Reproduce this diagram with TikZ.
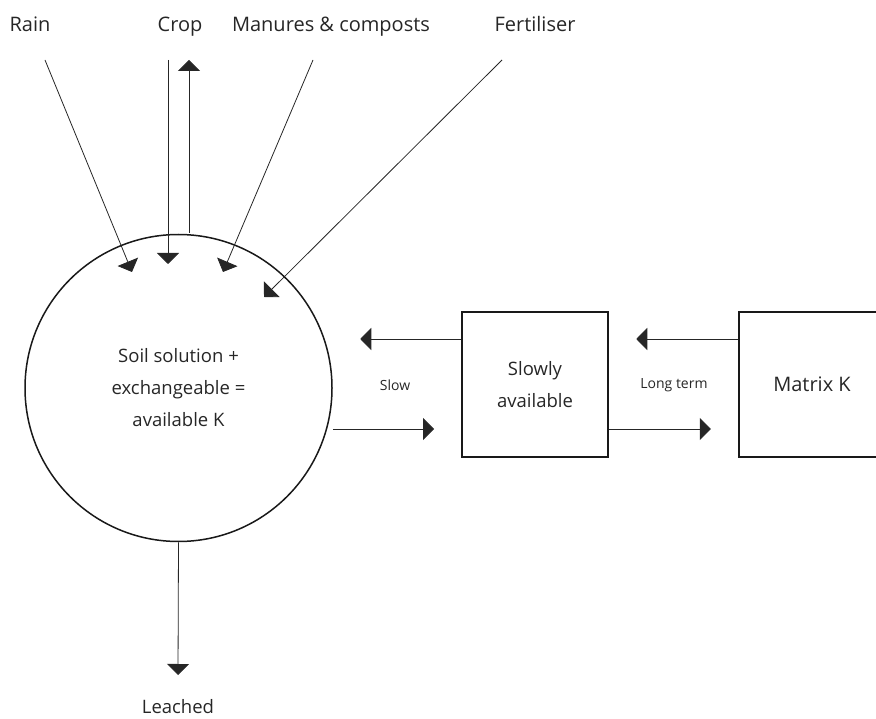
\documentclass[tikz,border=0pt]{standalone}
\usepackage{fontspec}
\setmainfont{Open Sans}
\usetikzlibrary{arrows.meta}

\begin{document}
\begin{tikzpicture}
        [
            x=1pt,
            y=-1pt,
            arr/.style={-{Triangle[length=11pt, width=22pt]}, line width=0.8pt, draw=black!85},
            txt/.style={font=\fontsize{18.5}{32}\selectfont, text=black!85, inner sep=0pt},
            toptxt/.style={txt, font=\fontsize{20}{24}\selectfont},
            small/.style={font=\fontsize{14}{16}\selectfont, text=black!85, inner sep=0pt},
            pool/.style={draw=black!90, line width=1.5pt, minimum width=146pt, minimum height=145pt, inner sep=0pt}
        ]
        \useasboundingbox (0,0) rectangle (876,719);

        % inputs and outputs
        \node[toptxt, anchor=base] (rain) at (30, 32) {Rain};
        \node[toptxt, anchor=base] (crop) at (180, 32) {Crop};
        \node[toptxt, anchor=base] (manure) at (331, 32) {Manures \& composts};
        \node[toptxt, anchor=base] (fert) at (535, 32) {Fertiliser};
        \node[txt, anchor=base] (leached) at (178, 713) {Leached};

        % pools
        \node[circle, draw=black!90, line width=1.5pt, minimum size=307pt, txt, align=center] (soil) at (178.5, 388)
            {Soil solution +\\exchangeable =\\available K};
        \node[pool, txt, align=center] (slowly) at (535, 384.5) {Slowly\\available};
        \node[pool, toptxt] (matrix) at (812, 384.5) {Matrix K};

        % free ends
        \coordinate (rainS) at (45, 60);
        \coordinate (rainT) at (132, 272);
        \coordinate (cropS) at (168, 60);
        \coordinate (cropT) at (168, 264);
        \coordinate (upS) at (189, 233);
        \coordinate (upT) at (189, 60);
        \coordinate (manS) at (313, 60);
        \coordinate (manT) at (223, 272);
        \coordinate (fertS) at (502, 60);
        \coordinate (fertT) at (264, 297);
        \coordinate (leachT) at (178, 675);

        \draw[arr] (rainS) -- (rainT);
        \draw[arr] (cropS) -- (cropT);
        \draw[arr] (upS) -- (upT);
        \draw[arr] (manS) -- (manT);
        \draw[arr] (fertS) -- (fertT);
        \draw[arr] (soil.south) -- (leachT);

        % exchange between pools
        \draw[arr] ([yshift=45.5pt]slowly.west) -- ++(-101, 0);
        \draw[arr] (soil.east |- 0, 429) -- (434, 429);
        \draw[arr] ([yshift=45.5pt]matrix.west) -- ++(-102, 0);
        \draw[arr] ([yshift=-44.5pt]slowly.east) -- ++(102, 0);
        \node[small] (slow) at (395, 385) {Slow};
        \node[small] (longterm) at (674, 385) {Long term};

    \end{tikzpicture}
\end{document}
